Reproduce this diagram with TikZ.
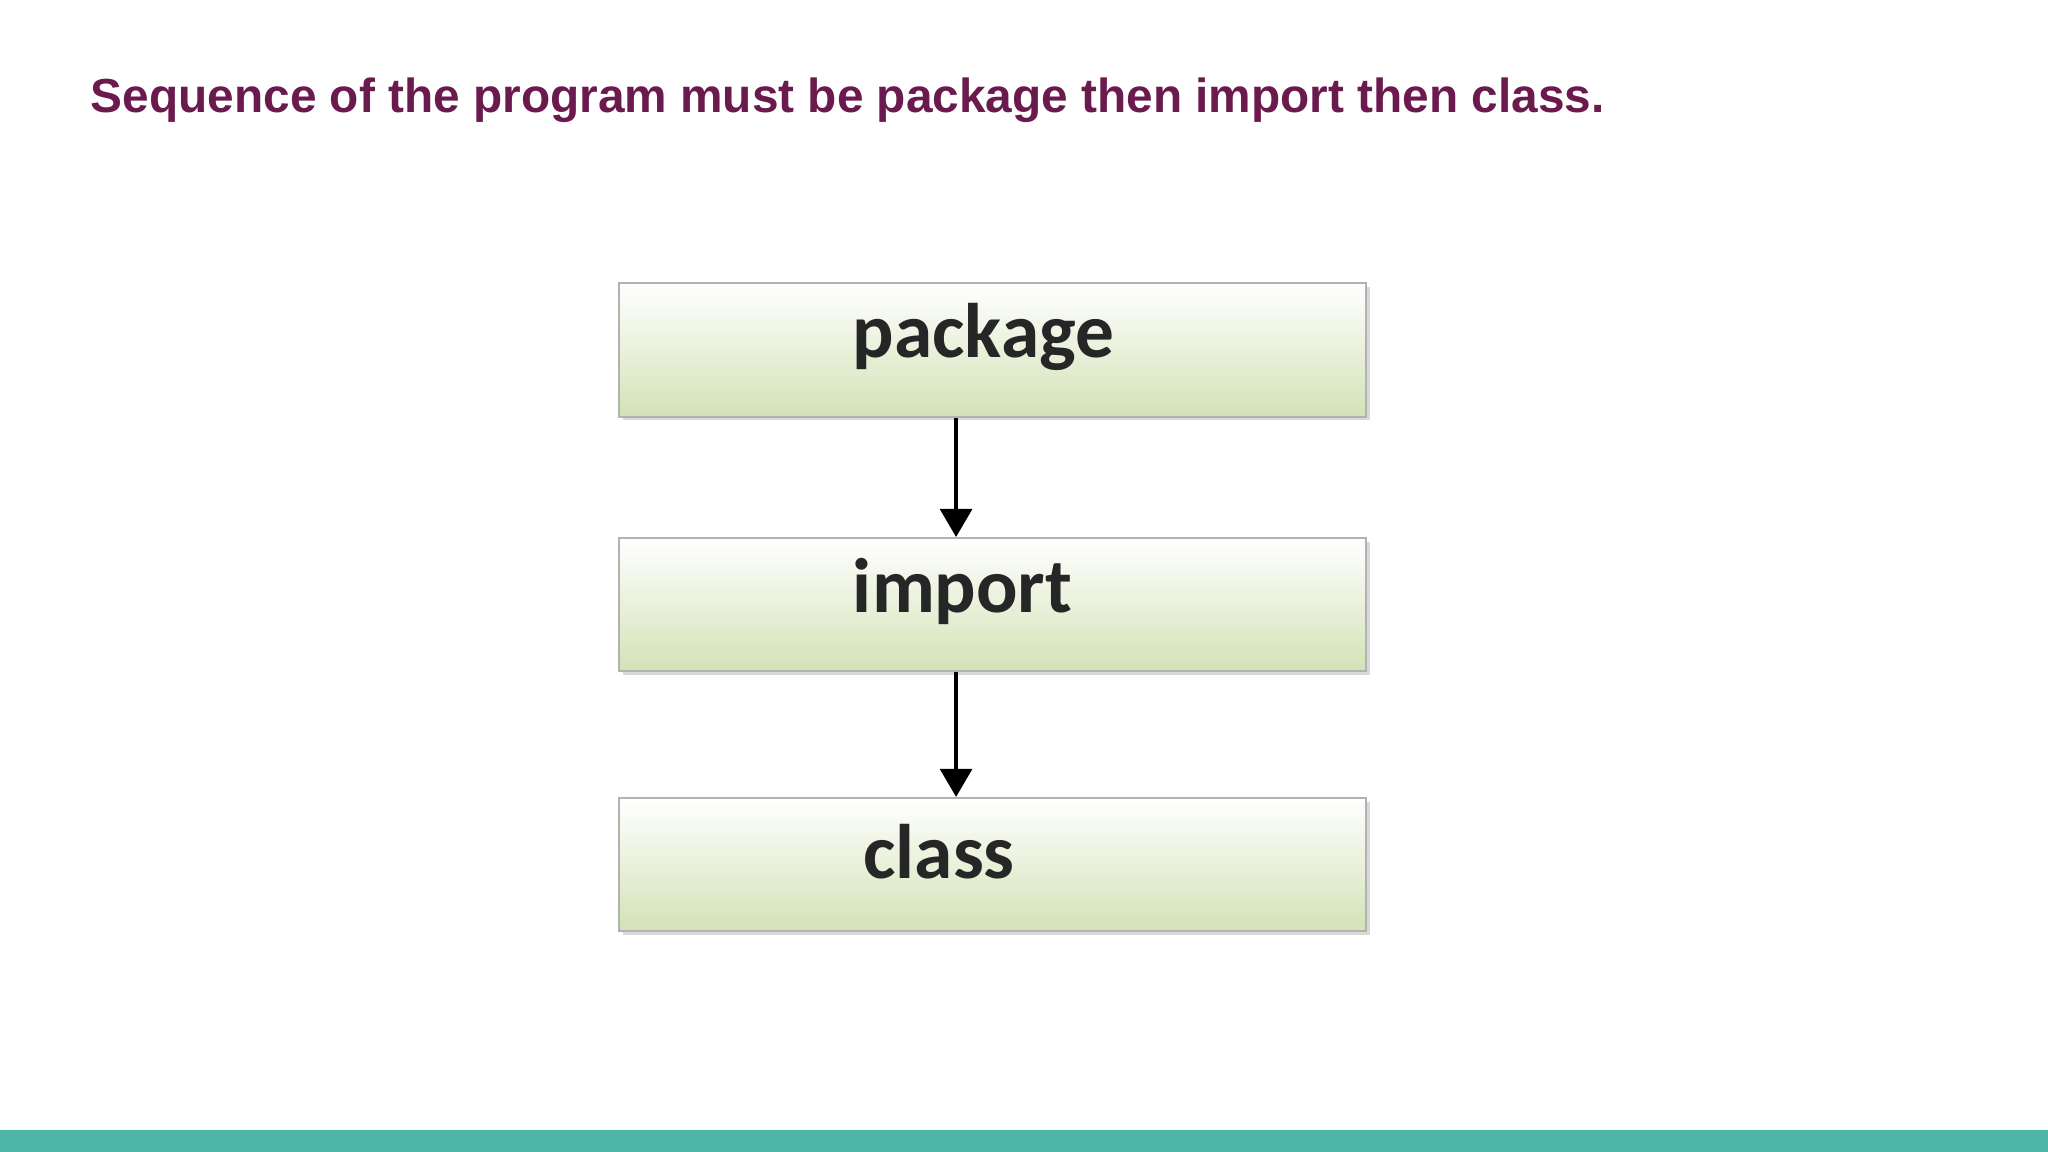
\documentclass[tikz,border=0pt]{standalone}
\usepackage{fontspec}
\setmainfont{Liberation Sans}
\newfontfamily\boxfont{Carlito}
\usetikzlibrary{positioning,arrows.meta,shadows}
\definecolor{titlepurple}{HTML}{6B1A4E}
\definecolor{barteal}{HTML}{4DB6A8}
\definecolor{boxgreen}{HTML}{D3E2B6}
\tikzset{
  stepbox/.style={draw=gray!60, line width=0.6pt, top color=white, bottom color=boxgreen,
    minimum width=572*0.013061cm, minimum height=102*0.013061cm, inner sep=0pt,
    drop shadow={shadow xshift=1pt, shadow yshift=-1pt, opacity=0.3}},
  steptext/.style={font=\boxfont\bfseries\fontsize{22}{24}\selectfont, text=black!85},
  flow/.style={-{Triangle[length=8pt,width=9pt]}, line width=1.2pt}
}
\begin{document}
\begin{tikzpicture}[x=0.013061cm, y=-0.013061cm]
    \useasboundingbox (0,0) rectangle (1568,882);
    % Title
    \node[anchor=base west, font=\bfseries\fontsize{13.6}{16}\selectfont, text=titlepurple, inner sep=0pt]
      (title) at (69,86) {Sequence of the program must be package then import then class.};

    % Boxes
    \node[stepbox] (pkg) at (760,268) {};
    \node[stepbox] (imp) at (760,463) {};
    \node[stepbox] (cls) at (760,662) {};
    \node[steptext] (pkgtext) at (753,258) {package};
    \node[steptext] (imptext) at (737,453) {import};
    \node[steptext] (clstext) at (719,652) {class};

    % Arrows
    \draw[flow] (pkg.south -| 732,0) -- (imp.north -| 732,0);
    \draw[flow] (imp.south -| 732,0) -- (cls.north -| 732,0);

    % Bottom bar
    \fill[barteal] (0,865) rectangle (1568,882);
\end{tikzpicture}
\end{document}
